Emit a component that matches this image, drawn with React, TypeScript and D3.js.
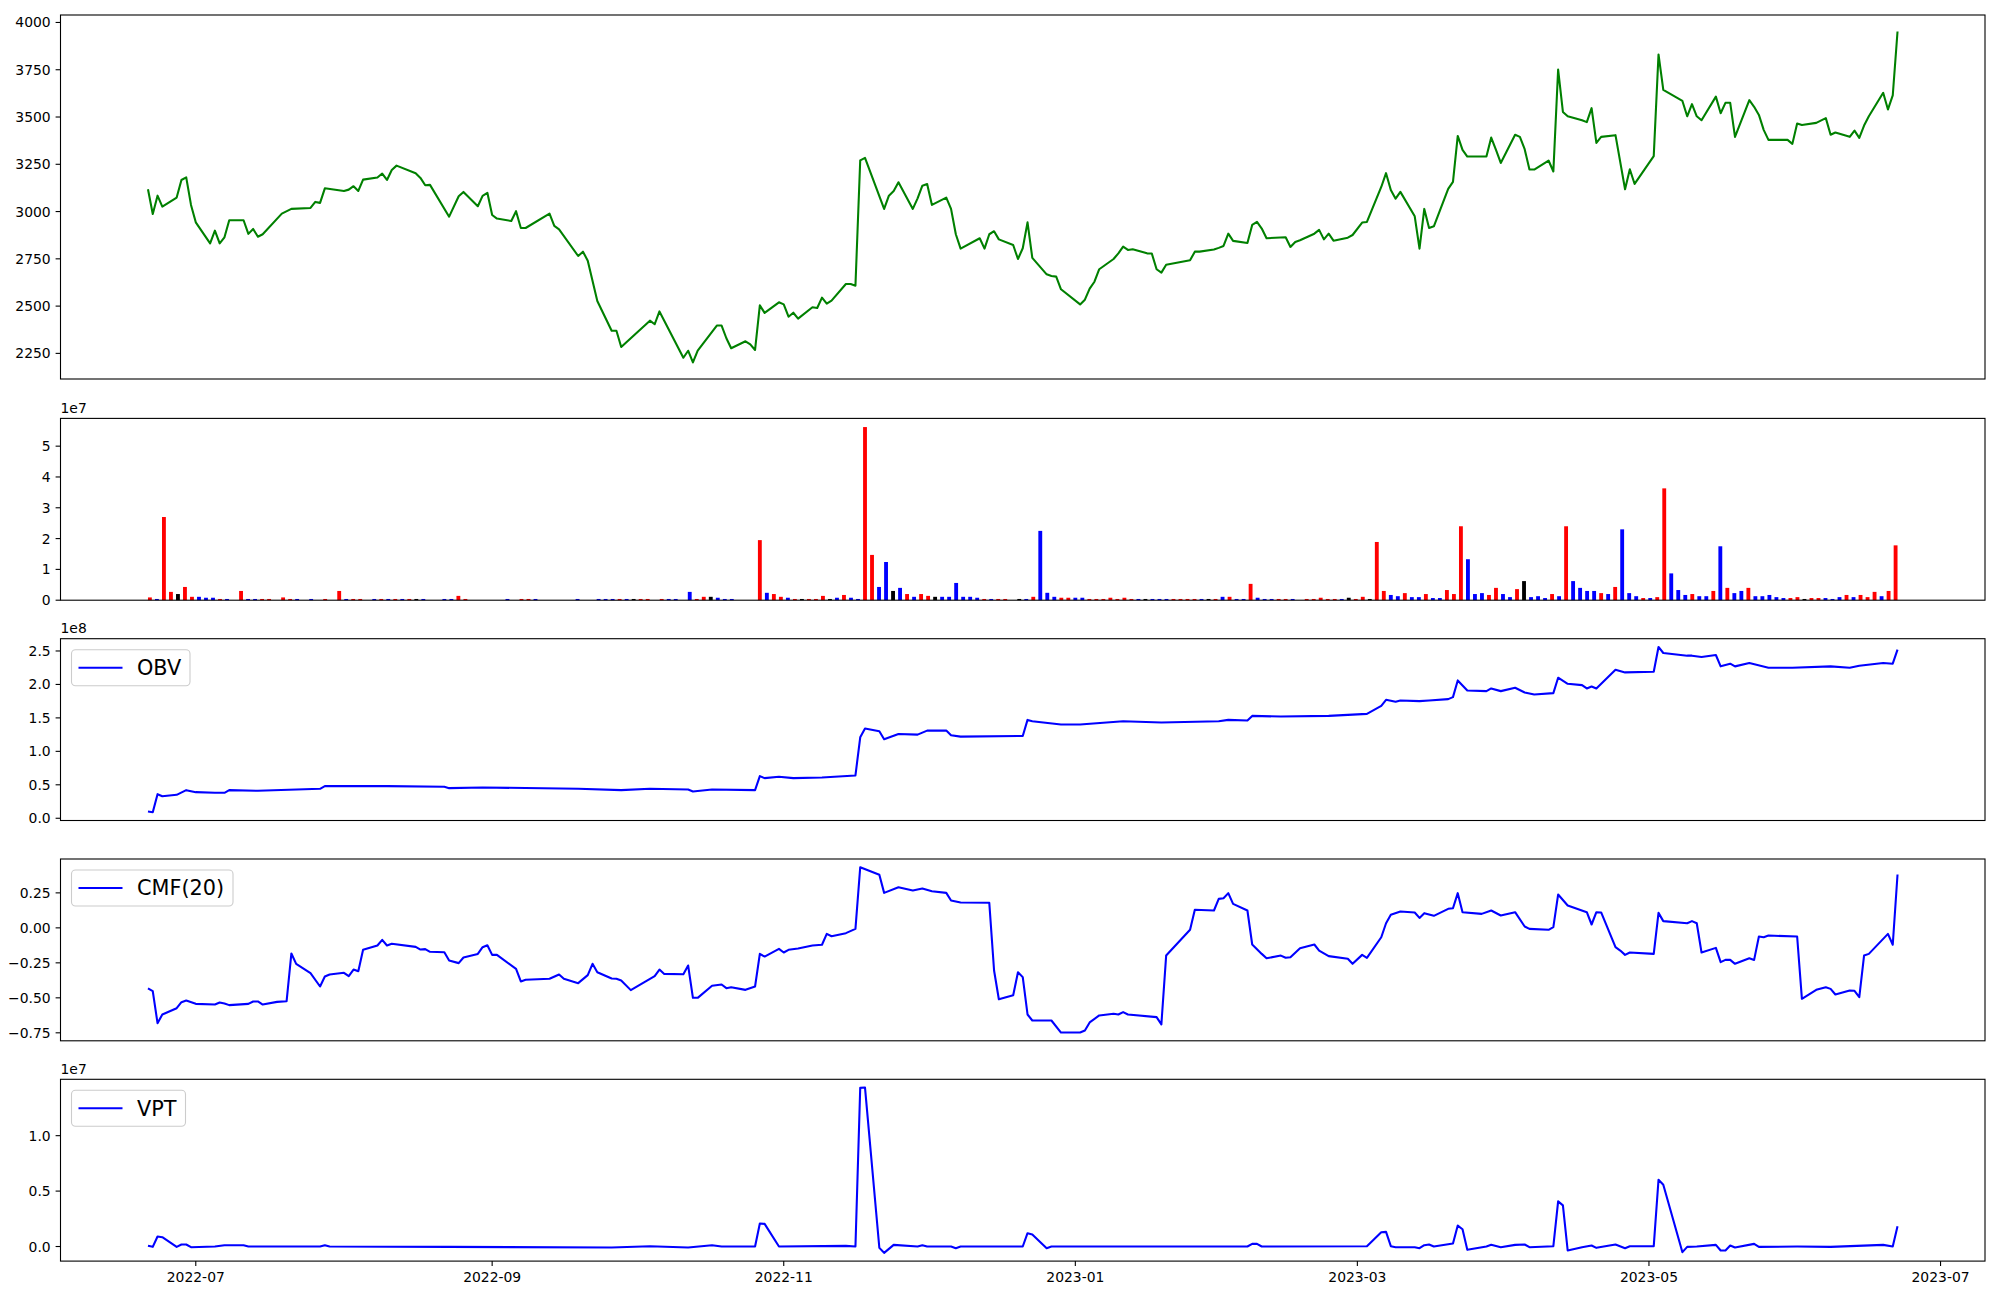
import React from 'react'
import * as d3 from 'd3'

// ---- price (close) ----
const priceDates = [
  '2022-06-21','2022-06-22','2022-06-23','2022-06-24','2022-06-27','2022-06-28','2022-06-29','2022-06-30','2022-07-01',
  '2022-07-04','2022-07-05','2022-07-06','2022-07-07','2022-07-08','2022-07-11','2022-07-12','2022-07-13','2022-07-14',
  '2022-07-15','2022-07-19','2022-07-21','2022-07-25','2022-07-26','2022-07-27','2022-07-28','2022-08-01','2022-08-02',
  '2022-08-03','2022-08-04','2022-08-05','2022-08-08','2022-08-09','2022-08-10','2022-08-11','2022-08-12','2022-08-16',
  '2022-08-17','2022-08-18','2022-08-19','2022-08-23','2022-08-25','2022-08-26','2022-08-29','2022-08-30','2022-08-31',
  '2022-09-01','2022-09-02','2022-09-05','2022-09-06','2022-09-07','2022-09-08','2022-09-13','2022-09-14','2022-09-15',
  '2022-09-19','2022-09-20','2022-09-21','2022-09-23','2022-09-26','2022-09-27','2022-09-28','2022-10-04','2022-10-05',
  '2022-10-06','2022-10-11','2022-10-12','2022-10-13','2022-10-14','2022-10-18','2022-10-19','2022-10-20','2022-10-21',
  '2022-10-24','2022-10-25','2022-10-26','2022-10-27','2022-10-28','2022-10-31','2022-11-01','2022-11-02','2022-11-03',
  '2022-11-04','2022-11-07','2022-11-08','2022-11-09','2022-11-10','2022-11-11','2022-11-14','2022-11-15','2022-11-16',
  '2022-11-17','2022-11-18','2022-11-22','2022-11-23','2022-11-24','2022-11-25','2022-11-28','2022-11-29','2022-11-30',
  '2022-12-01','2022-12-02','2022-12-05','2022-12-06','2022-12-07','2022-12-08','2022-12-12','2022-12-13','2022-12-14',
  '2022-12-15','2022-12-16','2022-12-19','2022-12-20','2022-12-21','2022-12-22','2022-12-23','2022-12-26','2022-12-27',
  '2022-12-28','2022-12-29','2023-01-02','2023-01-03','2023-01-04','2023-01-05','2023-01-06','2023-01-09','2023-01-10',
  '2023-01-11','2023-01-12','2023-01-13','2023-01-16','2023-01-17','2023-01-18','2023-01-19','2023-01-20','2023-01-25',
  '2023-01-26','2023-01-27','2023-01-30','2023-01-31','2023-02-01','2023-02-02','2023-02-03','2023-02-06','2023-02-07',
  '2023-02-08','2023-02-09','2023-02-10','2023-02-14','2023-02-15','2023-02-16','2023-02-17','2023-02-20','2023-02-21',
  '2023-02-22','2023-02-23','2023-02-24','2023-02-27','2023-02-28','2023-03-02','2023-03-03','2023-03-06','2023-03-07',
  '2023-03-08','2023-03-09','2023-03-10','2023-03-13','2023-03-14','2023-03-15','2023-03-16','2023-03-17','2023-03-20',
  '2023-03-21','2023-03-22','2023-03-23','2023-03-24','2023-03-28','2023-03-29','2023-03-30','2023-03-31','2023-04-03',
  '2023-04-04','2023-04-05','2023-04-06','2023-04-07','2023-04-10','2023-04-11','2023-04-12','2023-04-13','2023-04-14',
  '2023-04-17','2023-04-18','2023-04-19','2023-04-20','2023-04-21','2023-04-24','2023-04-26','2023-04-27','2023-04-28',
  '2023-05-02','2023-05-03','2023-05-04','2023-05-08','2023-05-09','2023-05-10','2023-05-11','2023-05-12','2023-05-15',
  '2023-05-16','2023-05-17','2023-05-18','2023-05-19','2023-05-22','2023-05-23','2023-05-24','2023-05-25','2023-05-26',
  '2023-05-30','2023-05-31','2023-06-01','2023-06-02','2023-06-05','2023-06-07','2023-06-08','2023-06-09','2023-06-12',
  '2023-06-13','2023-06-14','2023-06-15','2023-06-16','2023-06-19','2023-06-20','2023-06-21','2023-06-22',
]
const priceValues = [
  3118, 2987, 3084, 3026, 3074, 3167, 3181, 3035, 2943,
  2832, 2899, 2832, 2864, 2954, 2954, 2882, 2908, 2867,
  2880, 2989, 3014, 3019, 3051, 3046, 3123, 3109, 3116,
  3134, 3109, 3169, 3180, 3201, 3167, 3220, 3243, 3203,
  3178, 3139, 3141, 2973, 3081, 3104, 3028, 3083, 3099,
  2982, 2963, 2950, 3002, 2913, 2913, 2989, 2924, 2906,
  2765, 2788, 2740, 2527, 2370, 2370, 2284, 2423, 2404,
  2472, 2227, 2264, 2202, 2264, 2397, 2397, 2330, 2277,
  2314, 2298, 2268, 2504, 2464, 2520, 2509, 2444, 2465,
  2434, 2494, 2490, 2545, 2513, 2529, 2617, 2617, 2608,
  3271, 3284, 3014, 3084, 3109, 3155, 3014, 3070, 3137,
  3146, 3035, 3074, 3014, 2880, 2804, 2859, 2804, 2880,
  2896, 2853, 2823, 2749, 2806, 2943, 2755, 2668, 2659,
  2656, 2589, 2509, 2534, 2592, 2629, 2695, 2749, 2779,
  2815, 2797, 2801, 2779, 2778, 2695, 2677, 2719, 2742,
  2788, 2788, 2799, 2808, 2818, 2883, 2845, 2834, 2929,
  2945, 2910, 2859, 2864, 2813, 2839, 2848, 2883, 2903,
  2853, 2883, 2846, 2862, 2876, 2942, 2945, 3130, 3203,
  3114, 3068, 3104, 2975, 2804, 3014, 2913, 2922, 3120,
  3157, 3400, 3326, 3291, 3291, 3391, 3326, 3257, 3406,
  3395, 3330, 3222, 3222, 3270, 3212, 3751, 3527, 3504,
  3483, 3473, 3547, 3363, 3395, 3404, 3118, 3224, 3146,
  3293, 3831, 3644, 3585, 3504, 3568, 3504, 3483, 3608,
  3520, 3575, 3575, 3395, 3589, 3554, 3511, 3432, 3379,
  3379, 3358, 3466, 3458, 3469, 3494, 3406, 3418, 3395,
  3428, 3390, 3455, 3504, 3628, 3540, 3614, 3952,
]

// ---- volume (1e6), one bar per trading day; r = up, b = down, k = flat ----
const volumeValues = [
  0.9, 0.4, 27, 2.7, 2.0, 4.3, 1.1, 1.1, 0.8, 0.8,
  0.4, 0.4, 0, 3.0, 0.4, 0.4, 0.4, 0.4, 0, 0.9,
  0.4, 0.4, 0, 0.4, 0, 0.4, 0, 3.0, 0.4, 0.4,
  0.4, 0, 0.4, 0.4, 0.4, 0.4, 0.4, 0.4, 0.4, 0.4,
  0, 0, 0.4, 0.4, 1.4, 0.4, 0, 0, 0, 0,
  0, 0.4, 0, 0.4, 0.4, 0.4, 0, 0, 0, 0,
  0, 0.4, 0, 0, 0.4, 0.4, 0.4, 0.4, 0.4, 0.4,
  0.4, 0.4, 0, 0.4, 0.4, 0.4, 0, 2.7, 0.4, 1.1,
  1.1, 0.8, 0.4, 0.4, 0, 0, 0, 19.5, 2.4, 2.0,
  1.1, 0.8, 0.4, 0.4, 0.4, 0.4, 1.4, 0.4, 0.8, 1.7,
  0.8, 0.4, 56.2, 14.7, 4.3, 12.4, 3.0, 4.0, 2.0, 1.1,
  2.0, 1.4, 1.1, 1.1, 1.1, 5.6, 1.1, 1.1, 0.8, 0.4,
  0.4, 0.4, 0.4, 0, 0.4, 0.4, 1.1, 22.5, 2.4, 1.1,
  0.8, 0.8, 0.8, 0.8, 0.4, 0.4, 0.4, 0.8, 0.4, 0.8,
  0.4, 0.4, 0.4, 0.4, 0.4, 0.4, 0.4, 0.4, 0.4, 0.4,
  0.4, 0.4, 0.4, 1.1, 1.1, 0.4, 0.4, 5.3, 0.8, 0.4,
  0.4, 0.4, 0.4, 0.4, 0, 0.4, 0.4, 0.8, 0.4, 0.4,
  0.4, 0.8, 0.4, 1.1, 0.4, 18.9, 3.0, 1.7, 1.3, 2.3,
  1.0, 1.0, 2.0, 0.7, 0.7, 3.3, 2.0, 24.0, 13.3, 2.0,
  2.3, 1.7, 4.0, 2.0, 1.0, 3.6, 6.2, 1.0, 1.3, 0.7,
  2.0, 1.3, 24.0, 6.2, 4.0, 3.0, 3.0, 2.3, 2.0, 4.3,
  23.0, 2.3, 1.3, 0.7, 0.7, 1.0, 36.3, 8.7, 3.3, 1.7,
  2.0, 1.3, 1.3, 3.0, 17.5, 4.0, 2.3, 3.0, 4.0, 1.3,
  1.3, 1.7, 1.0, 0.7, 0.7, 1.0, 0.4, 0.7, 0.7, 0.7,
  0.4, 1.0, 1.7, 1.0, 1.7, 1.0, 2.7, 1.3, 3.0, 17.8,
]
const volumeColors =
  'rbrrkrrbbb' + 'rb-rbbrr-r' + 'rb-b-r-rbr' + 'r-brbrbrkb' + '--bbrr----' +
  '-b-rrb----' + '-b--bbbrbk' + 'rr-rbb-brr' + 'kbbb---rbr' + 'rbrkrrrkbr' +
  'bbrrbbkbrb' + 'rrkbbbbbbr' + 'brr-kbrbbb' + 'rrbbrrrrrr' + 'rbkbbbrrrr' +
  'bkrbrbbrbb' + 'brrb-rrrrr' + 'bkrrkrrbbr' + 'bbrbbrrrbb' + 'brrbbrkbbb' +
  'rbrbbbbrbr' + 'bbbrbrrbbb' + 'rbbrbrbbrb' + 'bbbbrrkrrb' + 'bbrbrrrbrr'
const colorOf: Record<string, string> = { r: 'red', b: 'blue', k: 'black', '-': 'blue' }

// ---- OBV (1e8) ----
const obvDates = [
  '2022-06-21','2022-06-22','2022-06-23','2022-06-24','2022-06-27','2022-06-29','2022-07-01','2022-07-05','2022-07-07',
  '2022-07-08','2022-07-14','2022-07-27','2022-07-28','2022-08-10','2022-08-22','2022-08-23','2022-08-30','2022-09-19',
  '2022-09-28','2022-10-04','2022-10-12','2022-10-13','2022-10-17','2022-10-26','2022-10-27','2022-10-28','2022-10-31',
  '2022-11-03','2022-11-09','2022-11-16','2022-11-17','2022-11-18','2022-11-21','2022-11-22','2022-11-25','2022-11-29',
  '2022-12-01','2022-12-05','2022-12-06','2022-12-08','2022-12-21','2022-12-22','2022-12-23','2022-12-29','2023-01-02',
  '2023-01-11','2023-01-19','2023-01-31','2023-02-02','2023-02-06','2023-02-07','2023-02-13','2023-02-23','2023-03-03',
  '2023-03-06','2023-03-07','2023-03-09','2023-03-10','2023-03-14','2023-03-16','2023-03-20','2023-03-21','2023-03-22',
  '2023-03-24','2023-03-28','2023-03-29','2023-03-31','2023-04-03','2023-04-05','2023-04-07','2023-04-11','2023-04-12',
  '2023-04-14','2023-04-17','2023-04-18','2023-04-19','2023-04-20','2023-04-24','2023-04-26','2023-05-02','2023-05-03',
  '2023-05-04','2023-05-09','2023-05-10','2023-05-12','2023-05-15','2023-05-16','2023-05-18','2023-05-19','2023-05-22',
  '2023-05-26','2023-05-31','2023-06-08','2023-06-12','2023-06-14','2023-06-19','2023-06-21','2023-06-22',
]
const obvValues = [
  0.10, 0.09, 0.36, 0.33, 0.35, 0.42, 0.39, 0.38, 0.38,
  0.42, 0.41, 0.44, 0.48, 0.48, 0.47, 0.45, 0.46, 0.44,
  0.42, 0.44, 0.43, 0.40, 0.43, 0.42, 0.63, 0.60, 0.62,
  0.60, 0.61, 0.64, 1.21, 1.34, 1.30, 1.18, 1.26, 1.25,
  1.31, 1.31, 1.24, 1.22, 1.23, 1.47, 1.45, 1.40, 1.40,
  1.45, 1.43, 1.45, 1.47, 1.46, 1.53, 1.52, 1.53, 1.56,
  1.68, 1.77, 1.74, 1.76, 1.75, 1.76, 1.78, 1.81, 2.06,
  1.91, 1.90, 1.94, 1.90, 1.95, 1.88, 1.85, 1.87, 2.10,
  2.01, 1.99, 1.94, 1.97, 1.94, 2.22, 2.18, 2.19, 2.56,
  2.47, 2.43, 2.43, 2.41, 2.44, 2.27, 2.31, 2.27, 2.32,
  2.25, 2.25, 2.27, 2.25, 2.28, 2.32, 2.31, 2.52,
]

// ---- CMF(20) ----
const cmfDates = [
  '2022-06-21','2022-06-22','2022-06-23','2022-06-24','2022-06-27','2022-06-28','2022-06-29','2022-07-01','2022-07-05',
  '2022-07-06','2022-07-07','2022-07-08','2022-07-12','2022-07-13','2022-07-14','2022-07-15','2022-07-18','2022-07-20',
  '2022-07-21','2022-07-22','2022-07-25','2022-07-27','2022-07-28','2022-07-29','2022-08-01','2022-08-02','2022-08-03',
  '2022-08-04','2022-08-05','2022-08-08','2022-08-09','2022-08-10','2022-08-11','2022-08-16','2022-08-17','2022-08-18',
  '2022-08-19','2022-08-22','2022-08-23','2022-08-25','2022-08-26','2022-08-29','2022-08-30','2022-08-31','2022-09-01',
  '2022-09-02','2022-09-06','2022-09-07','2022-09-08','2022-09-13','2022-09-15','2022-09-16','2022-09-19','2022-09-21',
  '2022-09-22','2022-09-23','2022-09-26','2022-09-27','2022-09-28','2022-09-30','2022-10-05','2022-10-06','2022-10-07',
  '2022-10-11','2022-10-12','2022-10-13','2022-10-14','2022-10-17','2022-10-19','2022-10-20','2022-10-21','2022-10-24',
  '2022-10-26','2022-10-27','2022-10-28','2022-10-31','2022-11-01','2022-11-02','2022-11-04','2022-11-07','2022-11-09',
  '2022-11-10','2022-11-11','2022-11-14','2022-11-16','2022-11-17','2022-11-21','2022-11-22','2022-11-25','2022-11-28',
  '2022-11-30','2022-12-02','2022-12-05','2022-12-06','2022-12-08','2022-12-14','2022-12-15','2022-12-16','2022-12-19',
  '2022-12-20','2022-12-21','2022-12-22','2022-12-23','2022-12-27','2022-12-29','2023-01-02','2023-01-03','2023-01-04',
  '2023-01-06','2023-01-09','2023-01-10','2023-01-11','2023-01-12','2023-01-18','2023-01-19','2023-01-20','2023-01-25',
  '2023-01-26','2023-01-30','2023-01-31','2023-02-01','2023-02-02','2023-02-03','2023-02-06','2023-02-07','2023-02-09',
  '2023-02-10','2023-02-13','2023-02-14','2023-02-15','2023-02-17','2023-02-20','2023-02-21','2023-02-23','2023-02-27',
  '2023-02-28','2023-03-02','2023-03-03','2023-03-06','2023-03-07','2023-03-08','2023-03-10','2023-03-13','2023-03-14',
  '2023-03-15','2023-03-17','2023-03-20','2023-03-21','2023-03-22','2023-03-23','2023-03-27','2023-03-29','2023-03-31',
  '2023-04-03','2023-04-05','2023-04-06','2023-04-10','2023-04-11','2023-04-12','2023-04-14','2023-04-18','2023-04-19',
  '2023-04-20','2023-04-21','2023-04-24','2023-04-25','2023-04-26','2023-04-27','2023-05-02','2023-05-03','2023-05-04',
  '2023-05-09','2023-05-10','2023-05-11','2023-05-12','2023-05-15','2023-05-16','2023-05-17','2023-05-18','2023-05-19',
  '2023-05-22','2023-05-23','2023-05-24','2023-05-25','2023-05-26','2023-06-01','2023-06-02','2023-06-05','2023-06-07',
  '2023-06-08','2023-06-09','2023-06-12','2023-06-13','2023-06-14','2023-06-15','2023-06-16','2023-06-20','2023-06-21',
  '2023-06-22',
]
const cmfValues = [
  -0.433, -0.452, -0.681, -0.619, -0.574, -0.531, -0.519, -0.543, -0.548,
  -0.533, -0.540, -0.552, -0.543, -0.526, -0.526, -0.548, -0.529, -0.524,
  -0.183, -0.257, -0.324, -0.419, -0.348, -0.333, -0.321, -0.345, -0.298,
  -0.310, -0.157, -0.126, -0.086, -0.126, -0.114, -0.136, -0.155, -0.152,
  -0.171, -0.174, -0.233, -0.252, -0.212, -0.186, -0.138, -0.124, -0.193,
  -0.193, -0.293, -0.383, -0.371, -0.364, -0.333, -0.364, -0.395, -0.338,
  -0.257, -0.317, -0.362, -0.364, -0.376, -0.445, -0.345, -0.298, -0.329,
  -0.331, -0.269, -0.500, -0.500, -0.414, -0.405, -0.431, -0.424, -0.443,
  -0.419, -0.186, -0.205, -0.150, -0.176, -0.157, -0.148, -0.126, -0.121,
  -0.043, -0.060, -0.038, -0.007, 0.433, 0.379, 0.250, 0.290, 0.267,
  0.281, 0.262, 0.250, 0.195, 0.181, 0.179, -0.305, -0.510, -0.481,
  -0.317, -0.352, -0.619, -0.662, -0.662, -0.748, -0.748, -0.733, -0.676,
  -0.626, -0.614, -0.619, -0.602, -0.619, -0.638, -0.690, -0.198, -0.014,
  0.129, 0.124, 0.207, 0.212, 0.248, 0.171, 0.124, -0.119, -0.186,
  -0.217, -0.198, -0.214, -0.210, -0.145, -0.119, -0.162, -0.202, -0.221,
  -0.257, -0.193, -0.214, -0.067, 0.033, 0.093, 0.117, 0.110, 0.071,
  0.105, 0.086, 0.136, 0.140, 0.248, 0.112, 0.100, 0.124, 0.088,
  0.112, 0.010, -0.007, -0.014, 0.005, 0.238, 0.160, 0.112, 0.024,
  0.112, 0.110, -0.138, -0.162, -0.193, -0.176, -0.186, 0.107, 0.048,
  0.033, 0.048, 0.033, -0.176, -0.143, -0.245, -0.229, -0.229, -0.257,
  -0.217, -0.229, -0.062, -0.067, -0.055, -0.062, -0.507, -0.443, -0.424,
  -0.436, -0.476, -0.448, -0.450, -0.495, -0.198, -0.186, -0.043, -0.121,
  0.381,
]

// ---- VPT (1e7) ----
const vptDates = [
  '2022-06-21','2022-06-22','2022-06-23','2022-06-24','2022-06-27','2022-06-28','2022-06-29','2022-06-30','2022-07-05',
  '2022-07-07','2022-07-11','2022-07-12','2022-07-27','2022-07-28','2022-07-29','2022-08-23','2022-09-26','2022-10-04',
  '2022-10-12','2022-10-17','2022-10-19','2022-10-26','2022-10-27','2022-10-28','2022-10-31','2022-11-14','2022-11-16',
  '2022-11-17','2022-11-18','2022-11-21','2022-11-22','2022-11-24','2022-11-29','2022-11-30','2022-12-01','2022-12-06',
  '2022-12-07','2022-12-08','2022-12-21','2022-12-22','2022-12-23','2022-12-26','2022-12-27','2023-02-06','2023-02-07',
  '2023-02-08','2023-02-09','2023-03-03','2023-03-06','2023-03-07','2023-03-08','2023-03-09','2023-03-13','2023-03-14',
  '2023-03-15','2023-03-16','2023-03-17','2023-03-21','2023-03-22','2023-03-23','2023-03-24','2023-03-28','2023-03-29',
  '2023-03-31','2023-04-03','2023-04-05','2023-04-06','2023-04-11','2023-04-12','2023-04-13','2023-04-14','2023-04-17',
  '2023-04-19','2023-04-20','2023-04-24','2023-04-26','2023-04-27','2023-05-02','2023-05-03','2023-05-04','2023-05-08',
  '2023-05-09','2023-05-11','2023-05-15','2023-05-16','2023-05-17','2023-05-18','2023-05-19','2023-05-23','2023-05-24',
  '2023-06-01','2023-06-08','2023-06-19','2023-06-21','2023-06-22',
]
const vptValues = [
  0.006, -0.003, 0.09, 0.084, -0.003, 0.018, 0.018, -0.006, 0,
  0.012, 0.012, 0, 0, 0.012, 0, -0.003, -0.009, 0.003,
  -0.009, 0.012, 0, 0, 0.207, 0.204, 0, 0.006, 0,
  1.431, 1.434, -0.012, -0.057, 0.015, 0, 0.012, 0, 0,
  -0.015, 0, 0, 0.12, 0.108, -0.015, 0, 0, 0.024,
  0.024, 0, 0.003, 0.129, 0.132, 0.003, -0.006, -0.006, -0.015,
  0.012, 0.018, 0, 0.027, 0.189, 0.156, -0.03, 0, 0.015,
  -0.006, 0.015, 0.018, -0.006, 0.003, 0.407, 0.371, -0.036, -0.006,
  0.009, -0.012, 0.018, -0.015, 0.003, 0.003, 0.602, 0.557, -0.051,
  -0.003, 0, 0.015, -0.036, -0.036, 0.009, -0.009, 0.024, -0.003,
  0, -0.003, 0.015, 0, 0.183,
]

const priceTicks = [2250, 2500, 2750, 3000, 3250, 3500, 3750, 4000]
const volumeTicks = [0, 1, 2, 3, 4, 5]
const obvTicks = [0, 0.5, 1, 1.5, 2, 2.5]
const cmfTicks = [-0.75, -0.5, -0.25, 0, 0.25]
const vptTicks = [0, 0.5, 1]

const left = 60.5
const right = 1985
const panelTop = [15, 418.4, 638.7, 859, 1079.3]
const panelH = [364, 181.8, 181.8, 181.8, 181.8]
const font = 'DejaVu Sans, Verdana, sans-serif'
const tickFs = 13.9
const legendFs = 20.8
const lw = 2.08

const parse = d3.utcParse('%Y-%m-%d')
const padded = (lo: number, hi: number) => {
  const p = (hi - lo) * 0.05
  return [lo - p, hi + p]
}

const firstDay = +parse(priceDates[0])!
const lastDay = +parse(priceDates[priceDates.length - 1])!
const [tLo, tHi] = padded(firstDay, lastDay)
const xTime = d3.scaleUtc().domain([new Date(tLo), new Date(tHi)]).range([left, right])

const barW = 0.55
const nBars = volumeValues.length
const xIdx = d3
  .scaleLinear()
  .domain(padded(-barW / 2, nBars - 1 + barW / 2))
  .range([left, right])

const yScale = (vals: number[], k: number) => {
  const [lo, hi] = d3.extent(vals) as [number, number]
  return d3.scaleLinear().domain(padded(lo, hi)).range([panelTop[k] + panelH[k], panelTop[k]])
}

const YAxis = ({ scale, ticks, fmt }: { scale: d3.ScaleLinear<number, number>; ticks: number[]; fmt: (v: number) => string }) => (
  <g>
    {ticks.map((t) => (
      <g key={t} transform={`translate(0,${scale(t)})`}>
        <line x1={left - 4.9} x2={left} stroke="black" strokeWidth={1.1} />
        <text x={left - 9.8} dy="0.36em" textAnchor="end" fontSize={tickFs} fontFamily={font}>
          {fmt(t)}
        </text>
      </g>
    ))}
  </g>
)

const Frame = ({ k }: { k: number }) => (
  <rect x={left} y={panelTop[k]} width={right - left} height={panelH[k]} fill="none" stroke="black" strokeWidth={1.1} />
)

const Offset = ({ k, label }: { k: number; label: string }) => (
  <text x={left} y={panelTop[k] - 5.5} fontSize={tickFs} fontFamily={font}>
    {label}
  </text>
)

const Legend = ({ k, label, width }: { k: number; label: string; width: number }) => {
  const x0 = left + 11
  const y0 = panelTop[k] + 11
  const cy = y0 + 18
  return (
    <g>
      <rect x={x0} y={y0} width={width} height={36} rx={4} fill="white" fillOpacity={0.8} stroke="#cccccc" strokeWidth={1.1} />
      <line x1={left + 18} x2={left + 62} y1={cy} y2={cy} stroke="blue" strokeWidth={lw} />
      <text x={left + 76.5} y={cy} dy="0.36em" fontSize={legendFs} fontFamily={font}>
        {label}
      </text>
    </g>
  )
}

const linePath = (dates: string[], vals: number[], y: d3.ScaleLinear<number, number>) =>
  d3
    .line<number>()
    .x((_, i) => xTime(parse(dates[i])!))
    .y((v) => y(v))(vals) || ''

export default function App() {
  const yPrice = yScale(priceValues, 0)
  // volume axis is in units of 1e7 (values are stored in 1e6)
  const yVol = d3
    .scaleLinear()
    .domain([0, ((d3.max(volumeValues) || 0) / 10) * 1.05])
    .range([panelTop[1] + panelH[1], panelTop[1]])
  const yObv = yScale(obvValues, 2)
  const yCmf = yScale(cmfValues, 3)
  const yVpt = yScale(vptValues, 4)

  const xTicks = xTime.ticks(d3.utcMonth.every(2)!)
  const bottom = panelTop[4] + panelH[4]
  const bw = xIdx(barW) - xIdx(0)

  return (
    <div style={{ position: 'absolute', left: 0, top: 0 }}>
      <svg width={2000} height={1300} style={{ display: 'block', background: 'white' }}>
        {/* price */}
        <path d={linePath(priceDates, priceValues, yPrice)} fill="none" stroke="green" strokeWidth={lw} strokeLinejoin="round" />
        <YAxis scale={yPrice} ticks={priceTicks} fmt={(v) => String(v)} />
        <Frame k={0} />

        {/* volume */}
        {volumeValues.map((v, i) =>
          v > 0 ? (
            <rect
              key={i}
              x={xIdx(i) - bw / 2}
              y={yVol(v / 10)}
              width={bw}
              height={yVol(0) - yVol(v / 10)}
              fill={colorOf[volumeColors[i]]}
            />
          ) : null,
        )}
        <YAxis scale={yVol} ticks={volumeTicks} fmt={(v) => String(v)} />
        <Frame k={1} />
        <Offset k={1} label="1e7" />

        {/* OBV */}
        <path d={linePath(obvDates, obvValues, yObv)} fill="none" stroke="blue" strokeWidth={lw} strokeLinejoin="round" />
        <YAxis scale={yObv} ticks={obvTicks} fmt={d3.format('.1f')} />
        <Frame k={2} />
        <Offset k={2} label="1e8" />
        <Legend k={2} label="OBV" width={118.5} />

        {/* CMF */}
        <path d={linePath(cmfDates, cmfValues, yCmf)} fill="none" stroke="blue" strokeWidth={lw} strokeLinejoin="round" />
        <YAxis scale={yCmf} ticks={cmfTicks} fmt={d3.format('.2f')} />
        <Frame k={3} />
        <Legend k={3} label="CMF(20)" width={161.5} />

        {/* VPT */}
        <path d={linePath(vptDates, vptValues, yVpt)} fill="none" stroke="blue" strokeWidth={lw} strokeLinejoin="round" />
        <YAxis scale={yVpt} ticks={vptTicks} fmt={d3.format('.1f')} />
        <Frame k={4} />
        <Offset k={4} label="1e7" />
        <Legend k={4} label="VPT" width={114} />

        {/* date axis */}
        {xTicks.map((t) => (
          <g key={+t} transform={`translate(${xTime(t)},${bottom})`}>
            <line y1={0} y2={4.9} stroke="black" strokeWidth={1.1} />
            <text y={21} textAnchor="middle" fontSize={tickFs} fontFamily={font}>
              {d3.utcFormat('%Y-%m')(t)}
            </text>
          </g>
        ))}
      </svg>
    </div>
  )
}
